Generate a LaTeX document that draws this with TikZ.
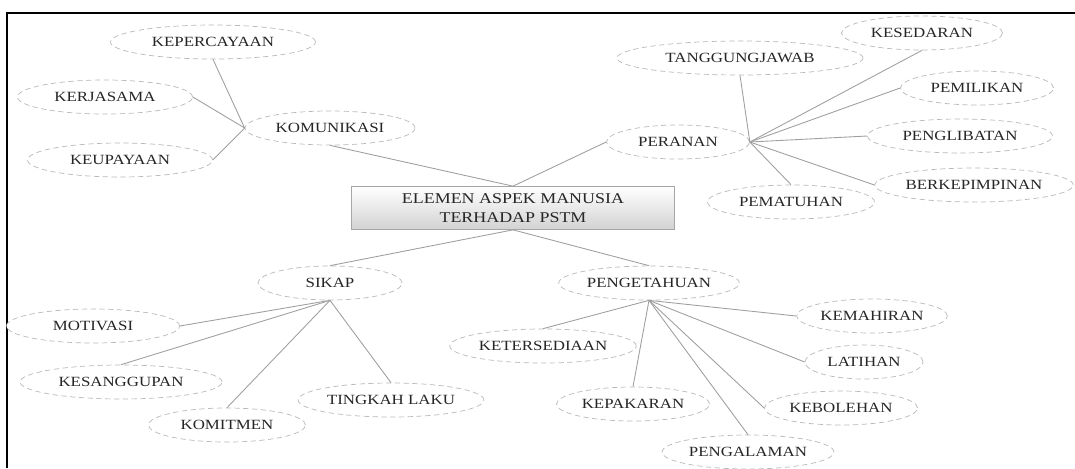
\documentclass[tikz,border=0pt]{standalone}
\usepackage{fontspec}
\setmainfont{Liberation Serif}[FakeStretch=1.2]
\usetikzlibrary{shapes.geometric}

\begin{document}
\begin{tikzpicture}[x=0.02cm, y=-0.02cm,
    konsep/.style={ellipse, draw=gray!55, densely dashed, fill=white, inner sep=1pt,
        minimum height=0.68cm, font=\fontsize{8}{9}\selectfont, text=black!85},
    lebar/.style={minimum width=#1*0.02cm},
    garis/.style={draw=gray!75, line width=0.5pt},
    kotak/.style={rectangle, draw=gray!70, top color=white, bottom color=gray!35,
        minimum width=6.46cm, minimum height=0.86cm, align=center,
        font=\fontsize{8.5}{10.5}\selectfont, text=black!85}]
    \useasboundingbox (0,0) rectangle (1075,468);

    % Bingkai
    \draw[line width=1.2pt] (7,468) -- (7,13) -- (1075,13);

    % Kotak tengah
    \node[kotak] (E) at (513,208) {ELEMEN ASPEK MANUSIA\\TERHADAP PSTM};

    % Komunikasi
    \node[konsep, lebar=170] (KOM) at (330,128) {KOMUNIKASI};
    \node[konsep, lebar=205] (KEP) at (213,42) {KEPERCAYAAN};
    \node[konsep, lebar=175] (KER) at (105,97) {KERJASAMA};
    \node[konsep, lebar=185] (KEU) at (120,160) {KEUPAYAAN};

    % Peranan
    \node[konsep, lebar=143] (PER) at (678,142) {PERANAN};
    \node[konsep, lebar=246] (TAN) at (740,58) {TANGGUNGJAWAB};
    \node[konsep, lebar=161] (KES) at (922,33) {KESEDARAN};
    \node[konsep, lebar=153] (PEM) at (977,88) {PEMILIKAN};
    \node[konsep, lebar=185] (PGL) at (960,136) {PENGLIBATAN};
    \node[konsep, lebar=198] (BER) at (974,185) {BERKEPIMPINAN};
    \node[konsep, lebar=167] (PMT) at (791,202) {PEMATUHAN};

    % Sikap
    \node[konsep, lebar=144] (SIK) at (330,283) {SIKAP};
    \node[konsep, lebar=173] (MOT) at (93,326) {MOTIVASI};
    \node[konsep, lebar=202] (KSG) at (121,382) {KESANGGUPAN};
    \node[konsep, lebar=157] (KMT) at (227,425) {KOMITMEN};
    \node[konsep, lebar=178] (TIN) at (391,400) {TINGKAH LAKU};

    % Pengetahuan
    \node[konsep, lebar=162] (PGT) at (649,283) {PENGETAHUAN};
    \node[konsep, lebar=133] (KMH) at (872,316) {KEMAHIRAN};
    \node[konsep, lebar=118] (LAT) at (864,362) {LATIHAN};
    \node[konsep, lebar=153] (KBL) at (841,408) {KEBOLEHAN};
    \node[konsep, lebar=153] (PGM) at (748,452) {PENGALAMAN};
    \node[konsep, lebar=153] (KPK) at (633,404) {KEPAKARAN};
    \node[konsep, lebar=180] (KTS) at (543,346) {KETERSEDIAAN};

    % Garis penghubung
    \draw[garis] (E.north) -- (KOM.south);
    \draw[garis] (E.north) -- (PER.west);
    \draw[garis] (E.south) -- (SIK.north);
    \draw[garis] (E.south) -- (PGT.north);

    \draw[garis] (KOM.west) -- (KEP.south);
    \draw[garis] (KOM.west) -- (KER.east);
    \draw[garis] (KOM.west) -- (KEU.east);

    \draw[garis] (PER.east) -- (TAN.south);
    \draw[garis] (PER.east) -- (KES.south);
    \draw[garis] (PER.east) -- (PEM.west);
    \draw[garis] (PER.east) -- (PGL.west);
    \draw[garis] (PER.east) -- (BER.west);
    \draw[garis] (PER.east) -- (PMT.north);

    \draw[garis] (SIK.south) -- (MOT.east);
    \draw[garis] (SIK.south) -- (KSG.north);
    \draw[garis] (SIK.south) -- (KMT.north);
    \draw[garis] (SIK.south) -- (TIN.north);

    \draw[garis] (PGT.south) -- (KMH.west);
    \draw[garis] (PGT.south) -- (LAT.west);
    \draw[garis] (PGT.south) -- (KBL.west);
    \draw[garis] (PGT.south) -- (PGM.north);
    \draw[garis] (PGT.south) -- (KPK.north);
    \draw[garis] (PGT.south) -- (KTS.north);
\end{tikzpicture}
\end{document}
